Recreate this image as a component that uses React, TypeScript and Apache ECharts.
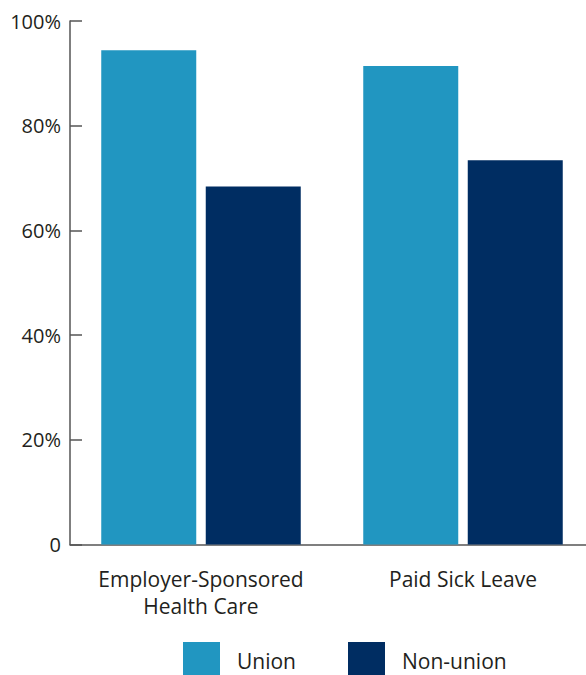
import React, { useEffect, useRef } from "react";
import * as echarts from "echarts";

const categories = ["Employer-Sponsored\nHealth Care", "Paid Sick Leave"];
const unionValues = [94.4, 91.4];
const nonUnionValues = [68.4, 73.4];
const seriesNames = ["Union", "Non-union"];
const yTicks = [0, 20, 40, 60, 80, 100];

const FONT = "'Open Sans', sans-serif";
const TEXT = "#231f20";

export default function App() {
  const ref = useRef<HTMLDivElement>(null);
  useEffect(() => {
    if (!ref.current) return;
    const chart = echarts.init(ref.current, undefined, { renderer: "svg" });
    chart.setOption({
      animation: false,
      backgroundColor: "#ffffff",
      textStyle: { fontFamily: FONT },
      grid: { left: 70, right: 0, top: 21, bottom: 130.5, containLabel: false },
      legend: {
        left: 183,
        top: 642,
        padding: 0,
        itemWidth: 37,
        itemHeight: 38,
        itemGap: 52,
        icon: "rect",
        textStyle: { fontSize: 21, lineHeight: 22, color: TEXT, fontFamily: FONT, padding: [0, 0, 0, 12] },
        data: seriesNames,
      },
      xAxis: {
        type: "category",
        data: categories,
        axisLine: { lineStyle: { color: "#555", width: 1.5 } },
        axisTick: { show: false },
        axisLabel: {
          interval: 0,
          hideOverlap: false,
          fontSize: 21,
          color: TEXT,
          fontFamily: FONT,
          lineHeight: 27,
          margin: 21,
        },
      },
      yAxis: {
        type: "value",
        min: yTicks[0],
        max: yTicks[yTicks.length - 1],
        interval: 20,
        splitLine: { show: false },
        axisLine: { show: true, lineStyle: { color: "#555", width: 1.5 } },
        axisTick: { show: true, inside: true, length: 12, lineStyle: { color: "#555", width: 1.5 } },
        axisLabel: {
          fontSize: 20,
          color: TEXT,
          fontFamily: FONT,
          margin: 9,
          formatter: (v: number) => (v === 0 ? "0" : v + "%"),
        },
      },
      series: [
        {
          name: seriesNames[0],
          type: "bar",
          data: unionValues,
          barWidth: 95,
          barGap: "10%",
          itemStyle: { color: "#2196c1" },
        },
        {
          name: seriesNames[1],
          type: "bar",
          data: nonUnionValues,
          barWidth: 95,
          itemStyle: { color: "#002d62" },
        },
      ],
    });
    return () => chart.dispose();
  }, []);
  return (
    <div style={{ position: "fixed", left: 0, top: 0, width: 586, height: 675, overflow: "hidden" }}>
      <div ref={ref} style={{ width: 594, height: 675 }} />
    </div>
  );
}
